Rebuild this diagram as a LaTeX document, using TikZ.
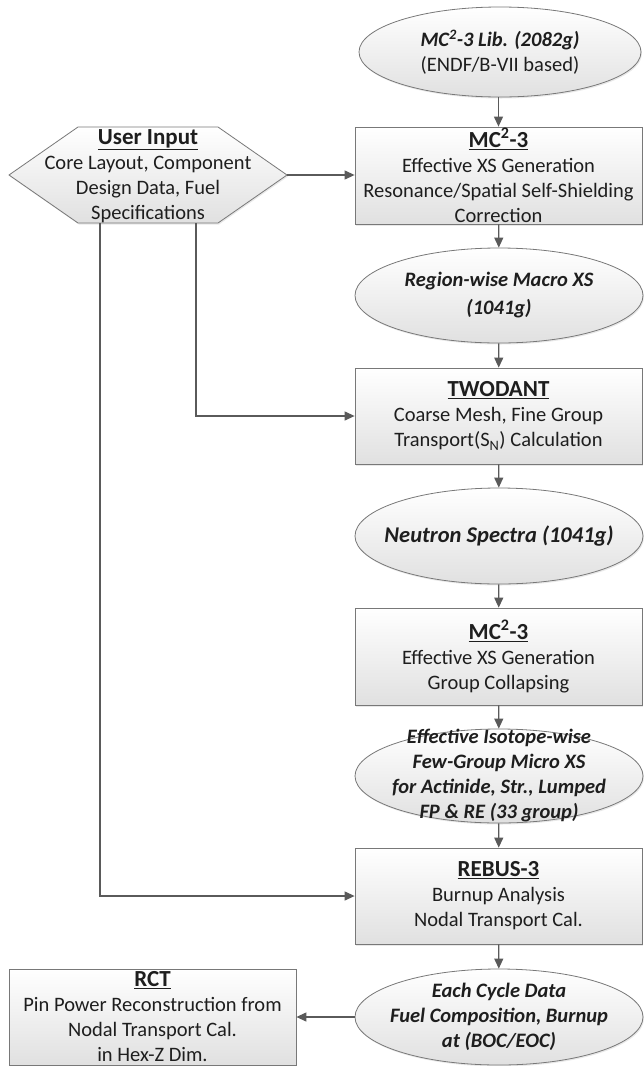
\documentclass[tikz,border=0pt]{standalone}
\usepackage{fontspec}
\setmainfont{Carlito}
\usetikzlibrary{shapes.geometric,arrows.meta,shadows}
\definecolor{edgec}{HTML}{787878}
\definecolor{arrc}{HTML}{5A5A5A}
\definecolor{txtc}{HTML}{1E1E1E}
\newcommand{\ttl}[1]{{\fontsize{23}{25}\selectfont\underline{\textbf{#1}}}}
\begin{document}
\begin{tikzpicture}[x=1pt,y=-1pt,
  font=\fontsize{20.5}{25}\selectfont, text=txtc,
  base/.style={draw=edgec, line width=0.8pt, top color=white, bottom color=black!12,
    drop shadow={shadow xshift=1pt,shadow yshift=-1.5pt,opacity=0.18}},
  proc/.style={base, rectangle, minimum width=287pt, minimum height=96pt, inner sep=0pt},
  ell/.style={base, ellipse, minimum width=288pt, minimum height=95pt, inner sep=0pt},
  etext/.style={align=center, font=\fontsize{20.5}{25}\selectfont\bfseries\itshape, inner sep=0pt},
  ttext/.style={align=center, inner sep=0pt},
  conn/.style={draw=arrc, line width=1.2pt, -{Triangle[length=10pt,width=9pt]}}]
\useasboundingbox (0,0) rectangle (643,1066);
\fill[white] (0,0) rectangle (643,1066);

% hexagon (user input)
\path[base] (9,175) -- (78,127) -- (218,127) -- (287,175) -- (218,223) -- (78,223) -- cycle;
\coordinate (userE) at (287,175);
\coordinate (userB1) at (196,223);
\coordinate (userB2) at (100,223);
\node[ttext] (user) at (148,176) {\ttl{User Input}\\Core Layout, Component\\Design Data, Fuel\\Specifications};

% library ellipse
\node[ell, minimum width=282pt, minimum height=90pt] (lib) at (500,52) {};
\node[ttext] (libT) at (lib.center) {\textbf{\textit{MC\textsuperscript{2}-3 Lib. (2082g)}}\\(ENDF/B-VII based)};

\node[proc, minimum height=97pt] (mc1) at (498.5,175.5) {};
\node[ttext] (mc1T) at (498.5,175) {\ttl{MC\textsuperscript{2}-3}\\Effective XS Generation\\Resonance/Spatial Self-Shielding\\Correction};

\node[ell] (mx) at (499,295.5) {};
\node[etext, font=\fontsize{20.5}{28}\selectfont\bfseries\itshape] (mxT) at (mx.center) {Region-wise Macro XS\\(1041g)};

\node[proc] (tw) at (498.5,416) {};
\node[ttext] (twT) at (tw.center) {\ttl{TWODANT}\\Coarse Mesh, Fine Group\\Transport(S\textsubscript{N}) Calculation};

\node[ell, minimum height=96pt] (ns) at (499,536) {};
\node[etext, font=\fontsize{22.5}{25}\selectfont\bfseries\itshape] (nsT) at (ns.center) {Neutron Spectra (1041g)};

\node[proc, minimum height=97pt] (mc2) at (498.5,656.5) {};
\node[ttext] (mc2T) at (mc2.center) {\ttl{MC\textsuperscript{2}-3}\\Effective XS Generation\\Group Collapsing};

\node[ell, minimum height=94pt] (mic) at (499,776) {};
\node[etext] (micT) at (499,776) {Effective Isotope-wise\\Few-Group Micro XS\\for Actinide, Str., Lumped\\FP \& RE (33 group)};

\node[proc] (reb) at (498.5,896) {};
\node[ttext] (rebT) at (reb.center) {\ttl{REBUS-3}\\Burnup Analysis\\Nodal Transport Cal.};

\node[ell, minimum height=96pt] (cyc) at (499,1017) {};
\node[etext] (cycT) at (cyc.center) {Each Cycle Data\\Fuel Composition, Burnup\\at (BOC/EOC)};

\node[proc] (rct) at (152.5,1017) {};
\node[ttext] (rctT) at (152.5,1017) {\ttl{RCT}\\Pin Power Reconstruction from\\Nodal Transport Cal.\\in Hex-Z Dim.};

% connectors
\draw[conn] (lib.south -| mc1.north) -- (mc1.north);
\draw[conn] (userE) -- (mc1.west |- userE);
\draw[conn] (mc1) -- (mx);
\draw[conn] (mx) -- (tw);
\draw[conn] (tw) -- (ns);
\draw[conn] (ns) -- (mc2);
\draw[conn] (mc2) -- (mic);
\draw[conn] (mic) -- (reb);
\draw[conn] (reb) -- (cyc);
\draw[conn] (cyc) -- (rct);
\draw[conn] (userB1) |- (tw.west);
\draw[conn] (userB2) |- (reb.west);
\end{tikzpicture}
\end{document}
